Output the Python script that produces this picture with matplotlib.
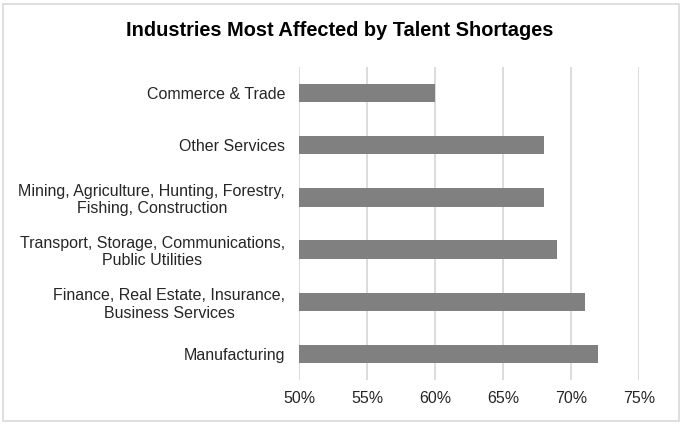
import matplotlib.pyplot as plt
from matplotlib.patches import Rectangle
from matplotlib.ticker import FuncFormatter

# Industries and share of employers reporting shortages (%)
industries = [
    "Manufacturing",
    "Finance, Real Estate, Insurance,\nBusiness Services",
    "Transport, Storage, Communications,\nPublic Utilities",
    "Mining, Agriculture, Hunting, Forestry,\nFishing, Construction",
    "Other Services",
    "Commerce & Trade",
]
values = [72, 71, 69, 68, 68, 60]
ticks = [50, 55, 60, 65, 70, 75]

plt.rcParams['font.family'] = ['Liberation Sans', 'DejaVu Sans']

fig = plt.figure(figsize=(6.82, 4.25), dpi=100)
ax = fig.add_axes([299 / 682, 45 / 425, 340 / 682, 313 / 425])

ax.barh(range(len(industries)), values, height=0.35, color='#808080', zorder=3)
ax.set_xlim(50, 75)
ax.set_ylim(-0.5, len(industries) - 0.5)
ax.set_xticks(ticks)
ax.xaxis.set_major_formatter(FuncFormatter(lambda v, p: f"{v:.0f}%"))
ax.set_yticks(range(len(industries)))
ax.set_yticklabels(industries, fontsize=11.5, color='#262626', multialignment='center')
ax.tick_params(axis='x', labelsize=11.5, colors='#262626', length=0, pad=8)
ax.tick_params(axis='y', length=0, pad=10)
ax.grid(axis='x', color='#d9d9d9', linewidth=1.3, zorder=0)
for s in ax.spines.values():
    s.set_visible(False)

fig.text(340 / 682, 1 - 31 / 425, "Industries Most Affected by Talent Shortages",
         ha='center', va='center', fontsize=14.4, fontweight='bold', color='black')

# light frame round the whole chart
fig.patches.append(Rectangle((3 / 682, 4 / 425), 676 / 682, 417 / 425,
                             transform=fig.transFigure, fill=False,
                             edgecolor='#d9d9d9', linewidth=1.2))

fig.savefig("out.png", dpi=100)
